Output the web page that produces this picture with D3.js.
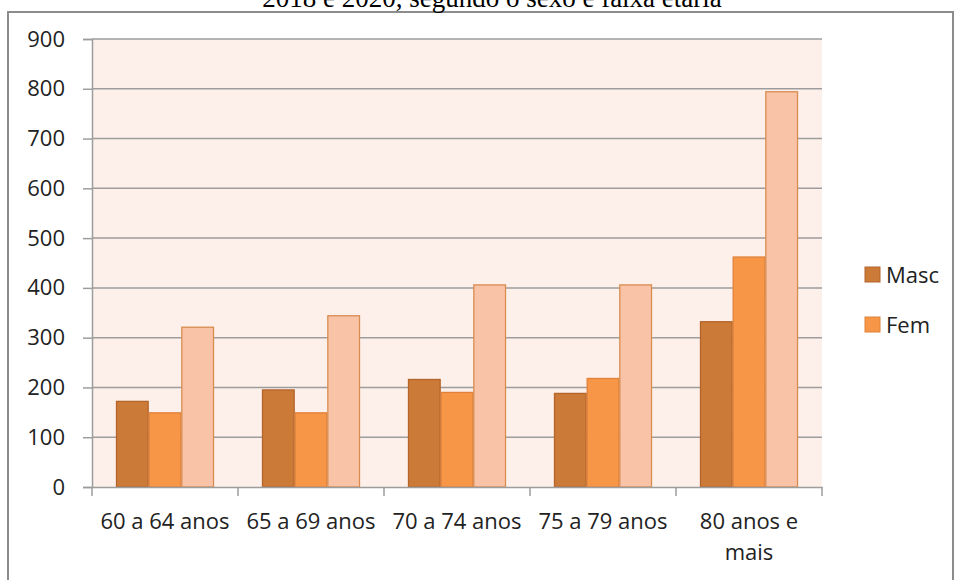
<!DOCTYPE html>
<html>
<head>
<meta charset="utf-8">
<script src="https://cdn.jsdelivr.net/npm/d3@7"></script>
<style>
  html, body { margin: 0; padding: 0; background: #ffffff; }
  svg { display: block; }
</style>
</head>
<body>
<svg id="chart" width="955" height="580"></svg>
<script>
const categories = ["60 a 64 anos", "65 a 69 anos", "70 a 74 anos", "75 a 79 anos", "80 anos e mais"];
const seriesNames = ["Masc", "Fem", "Total"];
const masc = [172, 195, 216, 188, 332];
const fem = [149, 149, 190, 218, 462];
const total = [321, 344, 406, 406, 794];
const yTicks = [0, 100, 200, 300, 400, 500, 600, 700, 800, 900];
const legendNames = ["Masc", "Fem"];
const titleText = "2018 e 2020, segundo o sexo e faixa etária";

const fills = ["#CC7A37", "#F79646", "#F9C3A8"];
const strokes = ["#B4652A", "#E0823A", "#D98C50"];

const svg = d3.select("#chart");
const m = { left: 92, right: 822, top: 39, bottom: 487 };
const font = "'Open Sans', sans-serif";
const fs = 22;

// outer chart border
svg.append("rect")
  .attr("x", 8).attr("y", 12).attr("width", 945).attr("height", 600)
  .attr("fill", "#ffffff").attr("stroke", "#8c8c8c").attr("stroke-width", 2);

// title (partially cut, as in the source)
svg.append("text")
  .attr("x", 492).attr("y", 7)
  .attr("text-anchor", "middle")
  .attr("font-family", "'Liberation Serif', 'Times New Roman', serif")
  .attr("font-size", 27)
  .attr("fill", "#000")
  .text(titleText);

const x0 = d3.scaleBand().domain(categories).range([m.left, m.right]).paddingInner(0).paddingOuter(0);
const x1 = d3.scaleBand().domain(seriesNames).range([24, x0.bandwidth() - 24]).padding(0);
const y = d3.scaleLinear().domain([0, 900]).range([m.bottom, m.top]);

// plot background
svg.append("rect")
  .attr("x", m.left).attr("y", m.top)
  .attr("width", m.right - m.left).attr("height", m.bottom - m.top)
  .attr("fill", "#FDEFEA");

// gridlines
svg.append("g").selectAll("line").data(yTicks.filter(d => d > 0)).join("line")
  .attr("x1", m.left).attr("x2", m.right)
  .attr("y1", d => y(d)).attr("y2", d => y(d))
  .attr("stroke", "#9d9d9d").attr("stroke-width", 1.5);

// bars
const data = categories.map((c, i) => ({ c, vals: [masc[i], fem[i], total[i]] }));
const groups = svg.append("g").selectAll("g").data(data).join("g")
  .attr("transform", d => `translate(${x0(d.c)},0)`);
groups.selectAll("rect").data(d => d.vals.map((v, j) => ({ v, j, s: seriesNames[j] }))).join("rect")
  .attr("x", d => x1(d.s) + 0.5)
  .attr("y", d => y(d.v))
  .attr("width", x1.bandwidth() - 1)
  .attr("height", d => y(0) - y(d.v))
  .attr("fill", d => fills[d.j])
  .attr("stroke", d => strokes[d.j])
  .attr("stroke-width", 1.3);

// y axis
const yAxis = d3.axisLeft(y).tickValues(yTicks).tickSize(9).tickPadding(18).tickFormat(d3.format("d"));
const gy = svg.append("g").attr("transform", `translate(${m.left},0)`).call(yAxis);
gy.select(".domain").attr("stroke", "#9d9d9d").attr("stroke-width", 1.5);
gy.selectAll(".tick line").attr("stroke", "#9d9d9d").attr("stroke-width", 1.5);
gy.selectAll(".tick text").attr("font-family", font).attr("font-size", fs).attr("fill", "#222");

// x axis
const xAxis = d3.axisBottom(x0).tickSize(0).tickPadding(0);
const gx = svg.append("g").attr("transform", `translate(0,${m.bottom})`).call(xAxis);
gx.select(".domain").attr("stroke", "#9d9d9d").attr("stroke-width", 1.5);
gx.selectAll(".tick text").remove();
const bounds = categories.map(c => x0(c)).concat([m.right]);
gx.append("g").selectAll("line").data(bounds).join("line")
  .attr("x1", d => d).attr("x2", d => d).attr("y1", 0).attr("y2", 9)
  .attr("stroke", "#9d9d9d").attr("stroke-width", 1.5);

// category labels with wrap
const labelG = svg.append("g");
categories.forEach(c => {
  const cx = x0(c) + x0.bandwidth() / 2;
  const t = labelG.append("text")
    .attr("x", cx).attr("y", 529)
    .attr("text-anchor", "middle")
    .attr("font-family", font).attr("font-size", fs).attr("fill", "#222");
  const words = c.split(" ");
  let line = [];
  let tspan = t.append("tspan").attr("x", cx).attr("dy", 0);
  words.forEach(w => {
    line.push(w);
    tspan.text(line.join(" "));
    if (tspan.node().getComputedTextLength() > 140 && line.length > 1) {
      line.pop();
      tspan.text(line.join(" "));
      line = [w];
      tspan = t.append("tspan").attr("x", cx).attr("dy", 31).text(w);
    }
  });
});

// legend
const legend = svg.append("g").selectAll("g").data(legendNames).join("g")
  .attr("transform", (d, i) => `translate(865,${267 + i * 50})`);
legend.append("rect").attr("width", 15).attr("height", 15)
  .attr("fill", (d, i) => fills[i]).attr("stroke", (d, i) => strokes[i]).attr("stroke-width", 1);
legend.append("text").attr("x", 21).attr("y", 8).attr("dy", "0.35em")
  .attr("font-family", font).attr("font-size", fs).attr("fill", "#222")
  .text(d => d);
</script>
</body>
</html>
